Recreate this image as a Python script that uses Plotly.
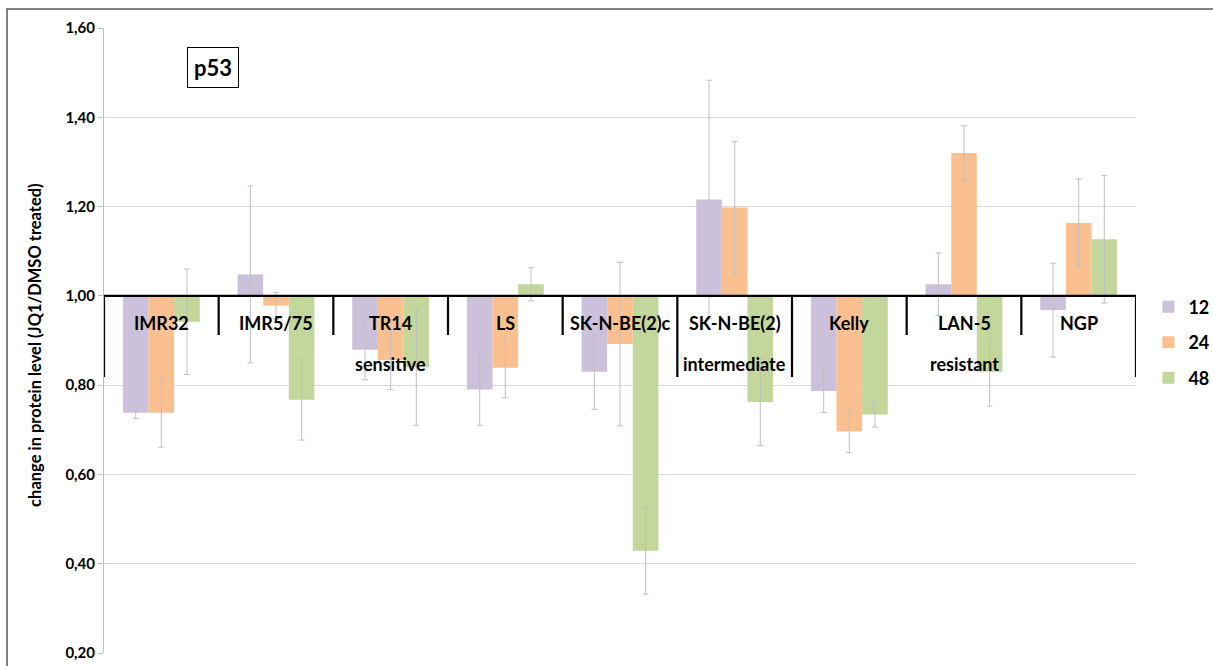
import plotly.graph_objects as go

# Cell lines and response groups
cell_lines = ["IMR32", "IMR5/75", "TR14", "LS", "SK-N-BE(2)c",
              "SK-N-BE(2)", "Kelly", "LAN-5", "NGP"]
groups = [("sensitive", 0, 4), ("intermediate", 5, 5), ("resistant", 6, 8)]

# p53 level relative to DMSO, per time point (h)
series_names = ["12", "24", "48"]
p53_12 = [0.738, 1.048, 0.879, 0.790, 0.830, 1.216, 0.787, 1.026, 0.968]
p53_24 = [0.738, 0.978, 0.856, 0.839, 0.892, 1.198, 0.696, 1.320, 1.163]
p53_48 = [0.942, 0.767, 0.840, 1.026, 0.429, 0.762, 0.734, 0.830, 1.127]
err_12 = [0.013, 0.198, 0.067, 0.080, 0.084, 0.267, 0.048, 0.070, 0.105]
err_24 = [0.077, 0.030, 0.066, 0.067, 0.183, 0.148, 0.047, 0.061, 0.099]
err_48 = [0.118, 0.090, 0.130, 0.037, 0.097, 0.097, 0.028, 0.077, 0.143]

colors = ["#CCC1DA", "#FAC090", "#C3D69B"]
FONT = "Lato"
BASELINE = 1.0

fig = go.Figure()
for name, vals, errs, col in zip(series_names, [p53_12, p53_24, p53_48],
                                 [err_12, err_24, err_48], colors):
    fig.add_trace(go.Bar(
        x=cell_lines,
        y=[v - BASELINE for v in vals],
        base=BASELINE,
        name=name,
        legendgroup=name,
        marker=dict(color=col, line=dict(width=0)),
        error_y=dict(type="data", array=errs, visible=True,
                     color="#BFBFBF", thickness=1, width=3),
    ))

shapes = []
# category axis drawn at the baseline
shapes.append(dict(type="line", xref="x", yref="y", x0=-0.5, x1=len(cell_lines) - 0.5,
                   y0=BASELINE, y1=BASELINE, line=dict(color="black", width=2.2),
                   layer="above"))
# separators between cell lines; longer ones between response groups
group_edges = {g[1] for g in groups} | {len(cell_lines)}
for i in range(len(cell_lines) + 1):
    long_tick = i in group_edges
    shapes.append(dict(type="line", xref="x", yref="paper", x0=i - 0.5, x1=i - 0.5,
                       y0=(653 - 296) / 625, y1=(0.4416 if long_tick else 0.5088),
                       line=dict(color="black", width=2.2), layer="above"))
# chart frame
shapes.append(dict(type="rect", xref="paper", yref="paper",
                   x0=(7 - 104) / 1032, x1=(1225 - 104) / 1032,
                   y0=-0.1, y1=(653 - 9) / 625,
                   line=dict(color="#595959", width=1.5), fillcolor="rgba(0,0,0,0)"))

annotations = []
for name in cell_lines:
    annotations.append(dict(x=name, xref="x", y=0.528, yref="paper", text=f"<b>{name}</b>",
                            showarrow=False, font=dict(family=FONT, size=18, color="black"),
                            xanchor="center", yanchor="middle"))
for label, i0, i1 in groups:
    annotations.append(dict(x=(i0 + i1) / 2, xref="x", y=0.4624, yref="paper",
                            text=f"<b>{label}</b>",
                            showarrow=False, font=dict(family=FONT, size=18, color="black"),
                            xanchor="center", yanchor="middle"))
annotations.append(dict(x=0.1056, y=0.9376, xref="paper", yref="paper", text="<b>p53</b>",
                        showarrow=False, font=dict(family=FONT, size=22, color="black"),
                        bordercolor="black", borderwidth=1, borderpad=6,
                        xanchor="center", yanchor="middle"))
annotations.append(dict(x=(35 - 104) / 1032, y=0.493, xref="paper", yref="paper",
                        text="<b>change in protein level (JQ1/DMSO treated)</b>",
                        textangle=-90, showarrow=False,
                        font=dict(family=FONT, size=16.5, color="black"),
                        xanchor="center", yanchor="middle"))

fig.update_layout(
    width=1213, height=666,
    margin=dict(l=104, r=77, t=28, b=13, autoexpand=False),
    paper_bgcolor="white", plot_bgcolor="white",
    separators=",.",
    barmode="group", bargap=0.33, bargroupgap=0,
    font=dict(family=FONT, color="black"),
    shapes=shapes, annotations=annotations,
    showlegend=True,
    legend=dict(x=1.012, y=0.583, xanchor="left", yanchor="top",
                font=dict(family=FONT, size=18, color="black", weight="bold"),
                tracegroupgap=9, itemwidth=30, bgcolor="rgba(0,0,0,0)"),
    xaxis=dict(showticklabels=False, showgrid=False, zeroline=False, showline=False,
               ticks="", range=[-0.5, len(cell_lines) - 0.5]),
    yaxis=dict(range=[0.2, 1.6], dtick=0.2, tick0=0.2, tickformat=".2f",
               showgrid=True, gridcolor="#D9D9D9", gridwidth=1,
               zeroline=False, showline=True, linecolor="#BFBFBF", linewidth=1,
               ticks="outside", ticklen=5, tickcolor="#BFBFBF",
               tickfont=dict(family=FONT, size=15, color="black", weight="bold")),
)

fig.write_html("out.html")
